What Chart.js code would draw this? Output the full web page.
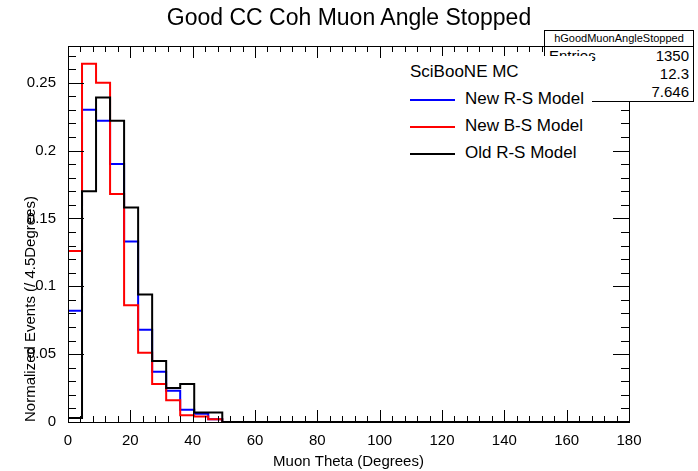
<!DOCTYPE html>
<html>
<head>
<script src="https://cdn.jsdelivr.net/npm/chart.js@4"></script>
<style>
body { margin: 0; background: #fff; font-family: "Liberation Sans", Arial, sans-serif; }
#wrap { position: relative; width: 698px; height: 471px; }
#title { position: absolute; top: 4px; left: 0; width: 698px; text-align: center; font-size: 23px; }
#stats { position: absolute; left: 544px; top: 30px; width: 148px; height: 70px; border: 1px solid #000; background: #fff; font-size: 15px; }
#stats .h { font-size: 11px; text-align: center; border-bottom: 1px solid #000; height: 15px; line-height: 15px; }
#stats .r { padding: 0 4px; height: 18px; line-height: 18px; display: flex; justify-content: space-between; }
#legend { position: absolute; left: 398px; top: 56px; background: #fff; font-size: 17px; padding: 2px 8px 4px 12px; }
#legend div { height: 27px; line-height: 27px; }
#legend span.l { display: inline-block; width: 45px; height: 2px; vertical-align: middle; margin-right: 10px; }
</style>
</head>
<body>
<div id="wrap">
  <canvas id="chart" width="698" height="471"></canvas>
  <div id="title">Good CC Coh Muon Angle Stopped</div>
  <div id="stats">
    <div class="h">hGoodMuonAngleStopped</div>
    <div class="r"><span>Entries</span><span>1350</span></div>
    <div class="r"><span>Mean</span><span>12.3</span></div>
    <div class="r"><span>RMS</span><span>7.646</span></div>
  </div>
  <div id="legend">
    <div>SciBooNE MC</div>
    <div><span class="l" style="background:#0000ff"></span>New R-S Model</div>
    <div><span class="l" style="background:#ff0000"></span>New B-S Model</div>
    <div><span class="l" style="background:#000"></span>Old R-S Model</div>
  </div>
</div>
<script>
// 40 bins of 4.5 degrees, 0..180
const binWidth = 4.5;
const newRS = [0.082, 0.230, 0.222, 0.190, 0.133, 0.068, 0.037, 0.023, 0.009, 0.006, 0.002];
const newBS = [0.126, 0.264, 0.250, 0.168, 0.086, 0.051, 0.028, 0.016, 0.005, 0.004, 0.002];
const oldRS = [0.003, 0.170, 0.239, 0.222, 0.158, 0.094, 0.045, 0.025, 0.028, 0.007, 0.007];
const yTicks = [0, 0.05, 0.1, 0.15, 0.2, 0.25];

function toSteps(vals) {
  let pts = [{x: 0, y: vals[0]}];
  for (let i = 0; i < 40; i++) {
    pts.push({x: (i + 1) * binWidth, y: i < vals.length ? vals[i] : 0});
  }
  return pts;
}

function ds(label, vals, color) {
  return {
    label: label, data: toSteps(vals), borderColor: color, borderWidth: 2,
    stepped: 'after', pointRadius: 0, fill: false
  };
}

// ROOT style inside tick marks
const tickPlugin = {
  id: 'rootTicks',
  afterDraw(chart) {
    const ctx = chart.ctx, a = chart.chartArea;
    const x = chart.scales.x, y = chart.scales.y;
    ctx.save();
    ctx.strokeStyle = '#000';
    ctx.lineWidth = 1;
    ctx.beginPath();
    for (let v = 0; v <= 180; v += 4) {
      const px = Math.round(x.getPixelForValue(v)) + 0.5;
      const len = v % 20 === 0 ? 12 : 6;
      ctx.moveTo(px, a.bottom); ctx.lineTo(px, a.bottom - len);
      ctx.moveTo(px, a.top); ctx.lineTo(px, a.top + len);
    }
    for (let k = 0; k <= 27; k++) {
      const v = k * 0.01;
      const py = Math.round(y.getPixelForValue(v)) + 0.5;
      const len = k % 5 === 0 ? 16 : 8;
      ctx.moveTo(a.left, py); ctx.lineTo(a.left + len, py);
      ctx.moveTo(a.right, py); ctx.lineTo(a.right - len, py);
    }
    ctx.stroke();
    ctx.strokeRect(a.left + 0.5, a.top + 0.5, a.right - a.left, a.bottom - a.top);
    ctx.restore();
  }
};

const font = {family: 'Liberation Sans', size: 15};

new Chart(document.getElementById('chart'), {
  type: 'line',
  data: {
    datasets: [
      ds('Old R-S Model', oldRS, '#000000'),
      ds('New B-S Model', newBS, '#ff0000'),
      ds('New R-S Model', newRS, '#0000ff')
    ]
  },
  options: {
    responsive: false,
    animation: false,
    layout: {padding: {top: 46, right: 69, left: 22, bottom: 0}},
    plugins: {legend: {display: false}, tooltip: {enabled: false}},
    scales: {
      x: {
        type: 'linear', min: 0, max: 180,
        afterFit: s => { s.height = 49; },
        grid: {display: false},
        border: {display: false},
        ticks: {stepSize: 20, color: '#000', font: font, padding: 2, maxRotation: 0},
        title: {display: true, text: 'Muon Theta (Degrees)', color: '#000', font: font, padding: 0}
      },
      y: {
        min: 0, max: 0.277,
        afterFit: s => { s.width = 46; },
        afterBuildTicks: s => { s.ticks = yTicks.map(v => ({value: v})); },
        grid: {display: false},
        border: {display: false},
        ticks: {color: '#000', font: font, padding: 4, callback: v => String(+v.toFixed(2))},
        title: {display: true, text: 'Normalized Events (/ 4.5Degrees)', color: '#000', font: font, align: 'start', padding: 0}
      }
    }
  },
  plugins: [tickPlugin]
});
</script>
</body>
</html>
